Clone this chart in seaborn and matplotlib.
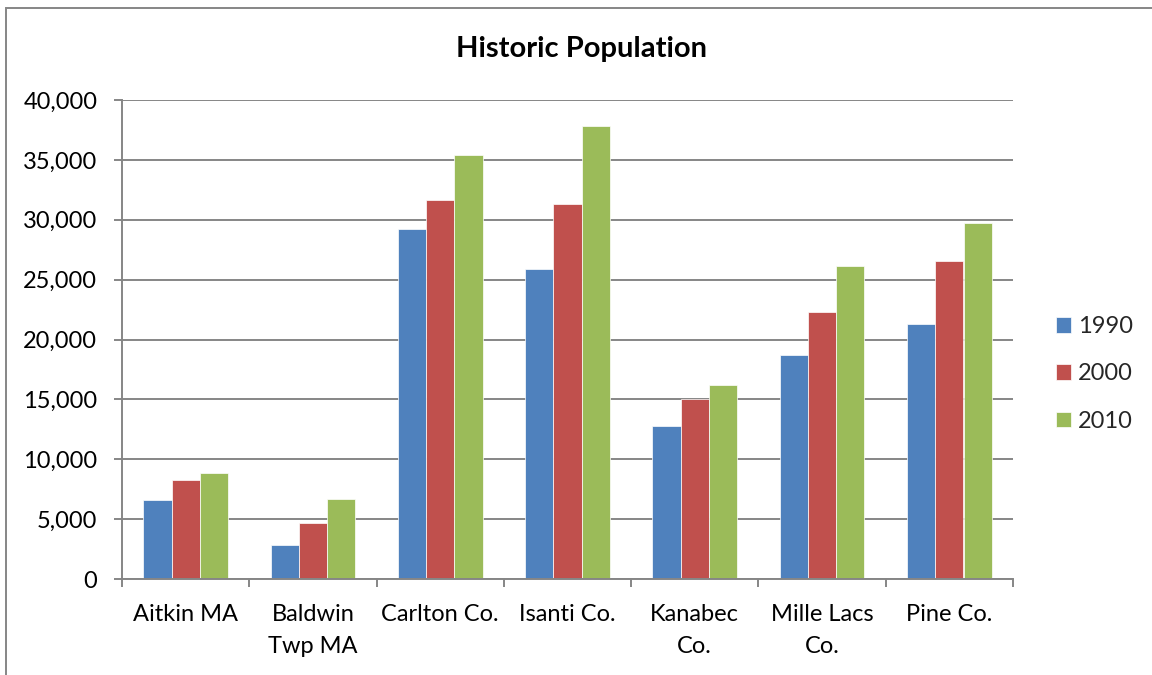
import numpy as np
import pandas as pd
import matplotlib
matplotlib.use("Agg")
import matplotlib.pyplot as plt
import seaborn as sns
from matplotlib.ticker import FuncFormatter, FixedLocator
from matplotlib.patches import Rectangle

# Population by area and census year
areas = ["Aitkin MA", "Baldwin\nTwp MA", "Carlton Co.", "Isanti Co.",
         "Kanabec\nCo.", "Mille Lacs\nCo.", "Pine Co."]
years = ["1990", "2000", "2010"]
pop_1990 = [6630, 2870, 29259, 25921, 12802, 18670, 21264]
pop_2000 = [8300, 4650, 31671, 31287, 14996, 22330, 26530]
pop_2010 = [8830, 6710, 35386, 37816, 16239, 26097, 29750]
y_ticks = list(range(0, 40001, 5000))
colors = ["#4F81BD", "#C0504D", "#9BBB59"]

df = pd.DataFrame({
    "area": areas * len(years),
    "year": np.repeat(years, len(areas)),
    "population": pop_1990 + pop_2000 + pop_2010,
})

sns.set_theme(style="white")
plt.rcParams["font.family"] = ["Lato", "DejaVu Sans"]
GRAY = "#868686"
FS = 17

W, H = 1152, 675
fig = plt.figure(figsize=(W / 100, H / 100), dpi=100)
fig.patch.set_facecolor("white")
ax = fig.add_axes([122 / W, 1 - 579 / H, (1013 - 122) / W, (579 - 100) / H])

sns.barplot(data=df, x="area", y="population", hue="year", order=areas,
            hue_order=years, palette=colors, saturation=1, width=2 / 3,
            edgecolor="white", linewidth=0.5, ax=ax)

ax.set_xlim(-0.5, len(areas) - 0.5)
ax.set_ylim(0, 40000)
ax.set_xlabel("")
ax.set_ylabel("")

# Y axis: gridlines and comma-formatted ticks
ax.set_yticks(y_ticks)
ax.yaxis.set_major_formatter(FuncFormatter(lambda v, p: f"{int(v):,}"))
ax.set_axisbelow(True)
ax.yaxis.grid(True, color=GRAY, linewidth=1.4)
ax.xaxis.grid(False)
ax.tick_params(axis="y", which="major", direction="out", length=5.8, width=1.4,
               color=GRAY, pad=12, labelsize=FS, labelcolor="black", left=True)

# X axis: category labels centred, tick marks at category boundaries
ax.xaxis.set_minor_locator(FixedLocator(np.arange(-0.5, len(areas), 1.0)))
ax.tick_params(axis="x", which="major", length=0, pad=18, labelsize=FS,
               labelcolor="black")
ax.tick_params(axis="x", which="minor", direction="out", length=5.8, width=1.4,
               color=GRAY, bottom=True)
for lbl in ax.get_xticklabels():
    lbl.set_linespacing(1.66)
    lbl.set_ha("center")

for side in ("top", "right"):
    ax.spines[side].set_visible(False)
for side in ("left", "bottom"):
    ax.spines[side].set_color(GRAY)
    ax.spines[side].set_linewidth(1.4)

# Legend on the right
handles, labels = ax.get_legend_handles_labels()
ax.legend(handles, labels, loc="center left", bbox_to_anchor=(1056 / W, 1 - 374 / H),
          bbox_transform=fig.transFigure, frameon=False, fontsize=FS,
          handlelength=0.64, handleheight=0.64, handletextpad=0.3,
          labelspacing=1.11, borderpad=0, borderaxespad=0)

fig.text(582 / W, 1 - 49 / H, "Historic Population", ha="center", va="center",
         fontsize=21, fontweight="bold", color="black")

# Chart-area border
fig.add_artist(Rectangle((6 / W, -0.1), 2.0, (1 - 8 / H) + 0.1,
                         transform=fig.transFigure, fill=False,
                         edgecolor=GRAY, linewidth=1.4))

fig.savefig("out.png", dpi=100)
